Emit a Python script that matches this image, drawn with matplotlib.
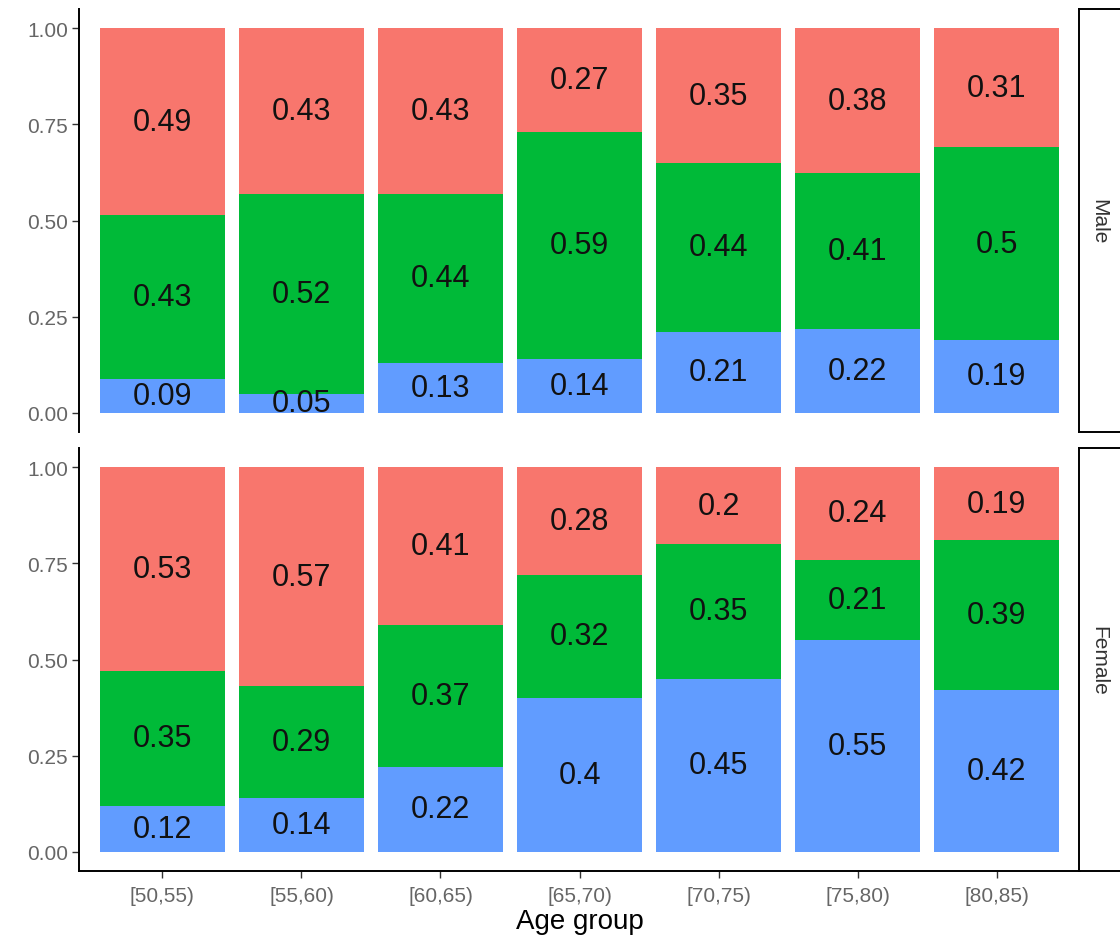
import numpy as np
import matplotlib.pyplot as plt

plt.rcParams['font.family'] = ['Liberation Sans', 'DejaVu Sans']

# data: share of each outcome per age group (bottom = blue, middle = green, top = red)
age_groups = ["[50,55)", "[55,60)", "[60,65)", "[65,70)", "[70,75)", "[75,80)", "[80,85)"]
male_blue = [0.09, 0.05, 0.13, 0.14, 0.21, 0.22, 0.19]
male_green = [0.43, 0.52, 0.44, 0.59, 0.44, 0.41, 0.5]
male_red = [0.49, 0.43, 0.43, 0.27, 0.35, 0.38, 0.31]
female_blue = [0.12, 0.14, 0.22, 0.4, 0.45, 0.55, 0.42]
female_green = [0.35, 0.29, 0.37, 0.32, 0.35, 0.21, 0.39]
female_red = [0.53, 0.57, 0.41, 0.28, 0.2, 0.24, 0.19]
facets = ["Male", "Female"]
colours = ["#619CFF", "#00BA38", "#F8766D"]

W, H = 1120, 945
fig = plt.figure(figsize=(W / 100, H / 100), dpi=100)

def px_axes(x0, y0, x1, y1):
    # pixel box (top-left origin) -> figure axes
    return fig.add_axes([x0 / W, 1 - y1 / H, (x1 - x0) / W, (y1 - y0) / H])

panels = [(facets[0], [male_blue, male_green, male_red], (10, 433)),
          (facets[1], [female_blue, female_green, female_red], (449, 872))]

x = np.arange(len(age_groups))
for k, (name, parts, (ytop, ybot)) in enumerate(panels):
    ax = px_axes(79, ytop, 1080, ybot)
    vals = np.array(parts, dtype=float)
    heights = vals / vals.sum(axis=0)
    bottom = np.zeros(len(x))
    for h, v, c in zip(heights, vals, colours):
        ax.bar(x, h, 0.9, bottom=bottom, color=c, linewidth=0)
        for xi, b, hi, vi in zip(x, bottom, h, v):
            ax.text(xi, b + hi / 2, f"{vi:g}", ha='center', va='center',
                    fontsize=22, color='#111111')
        bottom = bottom + h
    ax.set_xlim(-0.6, len(x) - 0.4)
    ax.set_ylim(-0.05, 1.05)
    ax.set_yticks([0, 0.25, 0.5, 0.75, 1.0])
    ax.set_yticklabels(["0.00", "0.25", "0.50", "0.75", "1.00"])
    for s in ['top', 'right']:
        ax.spines[s].set_visible(False)
    ax.spines['left'].set_linewidth(1.4)
    ax.spines['bottom'].set_linewidth(1.4)
    ax.tick_params(axis='y', length=5, width=1, color='#333333',
                   labelsize=15, labelcolor='#666666', pad=3)
    if k == 0:
        ax.spines['bottom'].set_visible(False)
        ax.set_xticks([])
    else:
        ax.set_xticks(x)
        ax.set_xticklabels(age_groups)
        ax.tick_params(axis='x', length=5, width=1, color='#333333',
                       labelsize=15, labelcolor='#666666', pad=6)
        ax.set_xlabel("Age group", fontsize=20, color='black', labelpad=2)

    # facet strip
    sx = px_axes(1079, ytop, 1130, ybot)
    sx.set_xticks([])
    sx.set_yticks([])
    for s in sx.spines.values():
        s.set_linewidth(1.4)
        s.set_color('black')
    sx.text(0.38, 0.5, name, rotation=-90, ha='center', va='center',
            fontsize=15, color='#333333', transform=sx.transAxes)

fig.savefig("out.png", dpi=100)
